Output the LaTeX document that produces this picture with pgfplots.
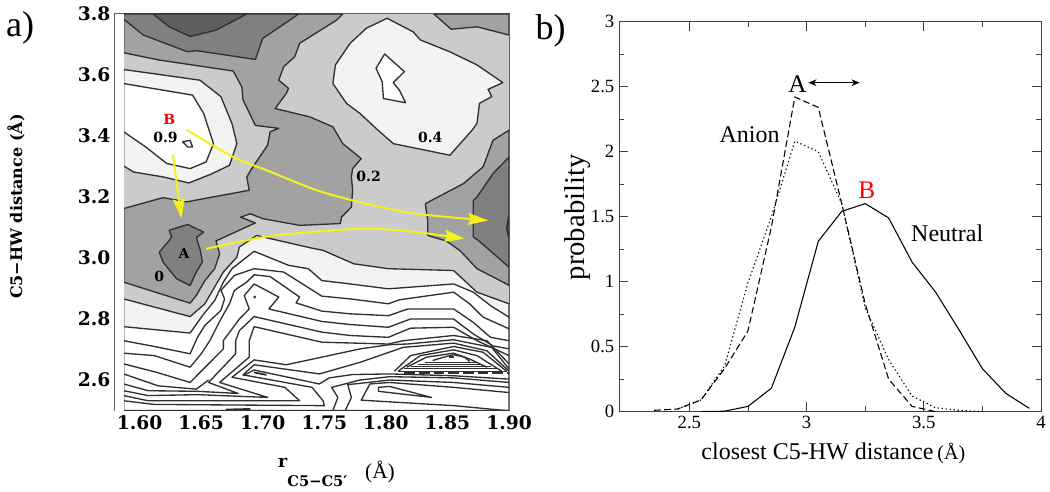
\documentclass[border=0pt]{standalone}
\usepackage{fontspec}
\usepackage{pgfplots}
\pgfplotsset{compat=1.18}
\usetikzlibrary{arrows.meta}
\setmainfont{Liberation Serif}
\newfontfamily\dvs{DejaVu Serif}
\definecolor{cfive}{HTML}{5E5E5E}
\definecolor{cfour}{HTML}{808080}
\definecolor{cthree}{HTML}{A2A2A2}
\definecolor{ctwo}{HTML}{CBCBCB}
\definecolor{cone}{HTML}{F3F3F3}
\definecolor{ln}{HTML}{303030}
\definecolor{yel}{HTML}{F6F01E}
\tikzset{lab/.style={font=\dvs\bfseries\fontsize{10.5}{12}\selectfont, inner sep=0pt}}
\pgfplotsset{
  ct/.style={ln, line width=1pt, no marks, line join=round},
  hl/.style={ln, line width=0.5pt, no marks},
  reg/.style={ln, line width=1pt, no marks, line join=round, fill=#1},
  yarrow/.style={yel, line width=1.5pt, no marks, smooth,
    -{Stealth[length=15pt,width=9pt,inset=2pt]}},
}
\begin{document}
\begin{tikzpicture}
\path[use as bounding box] (0,0) rectangle (787.5pt,369pt);

% a) free energy contour map
\begin{axis}[
  at={(86.25pt,61.1pt)}, anchor=south west,
  scale only axis, width=295.5pt, height=297.4pt,
  xmin=1.58, xmax=1.90, ymin=2.5, ymax=3.8,
  xtick={1.60,1.65,1.70,1.75,1.80,1.85,1.90},
  ytick={2.6,2.8,3.0,3.2,3.4,3.6,3.8},
  minor x tick num=4, minor y tick num=3,
  major tick length=4pt, minor tick length=2.2pt,
  every tick/.style={gray!70!black, line width=0.5pt},
  axis line style={gray!75!black, line width=1.3pt},
  x tick label style={/pgf/number format/.cd, fixed, fixed zerofill, precision=2, assume math mode=true},
  y tick label style={/pgf/number format/.cd, fixed, fixed zerofill, precision=1, assume math mode=true},
  tick label style={font=\dvs\bfseries\fontsize{14}{16}\selectfont},
]
\addplot[fill=ctwo, draw=none] coordinates {(1.587,2.5)(1.90,2.5)(1.90,3.8)(1.587,3.8)} -- cycle;
% lighter ground below the first contour
\addplot[reg=cone] coordinates {(1.587,2.866)(1.641,2.808)(1.653,2.850)(1.668,2.954)(1.679,3.003)(1.681,3.036)(1.695,3.074)(1.738,3.034)(1.749,3.025)(1.774,2.981)(1.802,2.965)(1.855,2.959)(1.874,2.888)(1.90,2.850)(1.90,2.5)(1.587,2.5)} -- cycle;
\addplot[reg=white] coordinates {(1.587,2.775)(1.641,2.754)(1.651,2.811)(1.661,2.861)(1.668,2.921)(1.675,2.965)(1.693,3.022)(1.721,2.976)(1.737,2.965)(1.748,2.926)(1.771,2.915)(1.802,2.899)(1.855,2.915)(1.871,2.888)(1.885,2.844)(1.90,2.806)(1.90,2.5)(1.587,2.5)} -- cycle;
% light basins
\addplot[reg=cone] coordinates {(1.587,3.618)(1.649,3.583)(1.666,3.529)(1.675,3.441)(1.679,3.375)(1.673,3.304)(1.658,3.275)(1.640,3.246)(1.619,3.266)(1.595,3.282)(1.587,3.302)} -- cycle;
\addplot[reg=white] coordinates {(1.587,3.572)(1.643,3.534)(1.652,3.474)(1.660,3.375)(1.654,3.315)(1.641,3.293)(1.622,3.310)(1.605,3.364)(1.587,3.414)} -- cycle;
\addplot[reg=cone] coordinates {(1.635,3.381)(1.641,3.386)(1.643,3.364)(1.639,3.364)} -- cycle;
\addplot[reg=cone] coordinates {(1.801,3.786)(1.822,3.742)(1.828,3.715)(1.852,3.676)(1.874,3.633)(1.895,3.575)(1.883,3.553)(1.886,3.529)(1.876,3.507)(1.874,3.441)(1.870,3.419)(1.852,3.337)(1.806,3.375)(1.792,3.425)(1.779,3.474)(1.768,3.507)(1.757,3.572)(1.759,3.633)(1.771,3.704)(1.784,3.753)} -- cycle;
\addplot[reg=white] coordinates {(1.799,3.669)(1.815,3.611)(1.806,3.575)(1.811,3.550)(1.816,3.509)(1.798,3.523)(1.797,3.578)(1.792,3.622)} -- cycle;
% darker regions
\addplot[reg=cthree] coordinates {(1.587,3.162)(1.619,3.198)(1.638,3.184)(1.689,3.222)(1.687,3.266)(1.692,3.299)(1.704,3.370)(1.706,3.414)(1.713,3.425)(1.694,3.435)(1.684,3.518)(1.683,3.561)(1.676,3.613)(1.616,3.649)(1.587,3.673)(1.587,3.80)(1.765,3.80)(1.760,3.78)(1.730,3.704)(1.726,3.660)(1.717,3.627)(1.713,3.583)(1.721,3.556)(1.719,3.539)(1.710,3.490)(1.738,3.463)(1.757,3.430)(1.765,3.375)(1.780,3.326)(1.773,3.293)(1.772,3.266)(1.773,3.222)(1.772,3.167)(1.764,3.134)(1.763,3.113)(1.730,3.107)(1.700,3.129)(1.690,3.145)(1.682,3.134)(1.694,3.115)(1.662,3.056)(1.665,3.014)(1.661,2.965)(1.653,2.926)(1.646,2.877)(1.641,2.852)(1.587,2.921)} -- cycle;
\addplot[reg=cthree] coordinates {(1.90,3.419)(1.887,3.386)(1.879,3.299)(1.863,3.244)(1.832,3.178)(1.834,3.123)(1.834,3.074)(1.849,3.056)(1.860,3.025)(1.874,2.965)(1.898,2.915)(1.90,2.910)} -- cycle;
\addplot[reg=cthree] coordinates {(1.839,3.80)(1.853,3.750)(1.874,3.758)(1.90,3.731)(1.90,3.80)} -- cycle;
\addplot[reg=cfour] coordinates {(1.587,3.80)(1.587,3.783)(1.603,3.731)(1.639,3.676)(1.646,3.680)(1.694,3.651)(1.700,3.720)(1.726,3.791)(1.729,3.80)} -- cycle;
\addplot[reg=cfive] coordinates {(1.611,3.80)(1.624,3.758)(1.641,3.726)(1.662,3.747)(1.687,3.80)} -- cycle;
\addplot[reg=cfour] coordinates {(1.639,3.110)(1.652,3.085)(1.646,3.067)(1.649,3.030)(1.651,2.987)(1.646,2.954)(1.641,2.910)(1.630,2.932)(1.619,2.987)(1.616,3.019)(1.624,3.058)(1.626,3.069)(1.624,3.091)} -- cycle;
\addplot[reg=cfour] coordinates {(1.90,3.331)(1.887,3.277)(1.874,3.200)(1.871,3.189)(1.871,3.123)(1.871,3.069)(1.875,3.058)(1.90,2.970)} -- cycle;
\addplot[reg=cfive] coordinates {(1.90,3.140)(1.898,3.100)(1.90,3.063)} -- cycle;
% contours of the steep lower part
\addplot[ct] coordinates {(1.587,2.729)(1.612,2.710)(1.641,2.686)(1.647,2.740)(1.653,2.779)(1.666,2.828)(1.669,2.866)(1.666,2.894)(1.677,2.943)(1.693,2.965)(1.717,2.954)(1.748,2.875)(1.771,2.866)(1.802,2.850)(1.811,2.863)(1.855,2.888)(1.868,2.850)(1.879,2.806)(1.90,2.768)};
\addplot[ct] coordinates {(1.587,2.688)(1.612,2.680)(1.641,2.642)(1.650,2.686)(1.657,2.729)(1.666,2.800)(1.673,2.850)(1.677,2.894)(1.687,2.921)(1.693,2.945)(1.706,2.939)(1.730,2.872)(1.727,2.853)(1.748,2.826)(1.771,2.817)(1.802,2.811)(1.818,2.833)(1.855,2.833)(1.871,2.789)(1.885,2.740)(1.90,2.729)};
\addplot[ct] coordinates {(1.587,2.653)(1.614,2.625)(1.641,2.592)(1.649,2.625)(1.668,2.702)(1.668,2.729)(1.681,2.800)(1.689,2.833)(1.685,2.877)(1.693,2.915)(1.713,2.872)(1.705,2.833)(1.748,2.792)(1.771,2.782)(1.802,2.773)(1.820,2.800)(1.855,2.800)(1.871,2.751)(1.887,2.712)(1.90,2.702)};
\addplot[ct] coordinates {(1.587,2.620)(1.615,2.581)(1.646,2.570)(1.656,2.600)};
\addplot[ct] coordinates {(1.587,2.587)(1.607,2.565)(1.647,2.563)(1.680,2.556)(1.656,2.592)(1.678,2.686)(1.678,2.729)(1.681,2.762)(1.693,2.808)(1.748,2.757)(1.771,2.746)(1.802,2.740)(1.820,2.770)(1.855,2.773)(1.874,2.729)(1.90,2.680)};
\addplot[ct] coordinates {(1.587,2.565)(1.607,2.549)(1.647,2.552)(1.704,2.543)(1.665,2.592)(1.689,2.675)(1.689,2.729)(1.693,2.775)(1.748,2.724)(1.802,2.718)(1.814,2.729)(1.855,2.746)(1.882,2.729)(1.90,2.653)};
\addplot[ct] coordinates {(1.587,2.549)(1.607,2.532)(1.730,2.532)(1.718,2.576)(1.675,2.609)(1.693,2.666)(1.719,2.650)(1.779,2.702)(1.803,2.716)(1.817,2.718)(1.855,2.732)(1.886,2.707)(1.90,2.636)};
\addplot[ct] coordinates {(1.587,2.532)(1.612,2.520)(1.750,2.516)(1.749,2.532)(1.740,2.576)(1.684,2.617)(1.693,2.650)(1.746,2.620)(1.779,2.658)(1.814,2.707)(1.855,2.721)(1.882,2.696)(1.90,2.629)};
\addplot[ct] coordinates {(1.684,2.614)(1.693,2.633)(1.746,2.587)(1.754,2.607)(1.773,2.618)(1.803,2.620)(1.855,2.614)(1.90,2.603)};
\addplot[ct] coordinates {(1.757,2.5)(1.761,2.543)(1.756,2.576)(1.779,2.600)(1.803,2.611)(1.855,2.607)(1.90,2.592)};
\addplot[ct] coordinates {(1.767,2.5)(1.772,2.543)(1.769,2.585)(1.779,2.589)(1.803,2.600)(1.855,2.592)(1.90,2.576)};
\addplot[ct] coordinates {(1.90,2.559)(1.855,2.576)(1.803,2.592)(1.787,2.587)(1.780,2.534)(1.855,2.516)(1.90,2.499)};
\addplot[ct] coordinates {(1.794,2.576)(1.803,2.579)(1.837,2.543)(1.794,2.563)} -- cycle;
% stack around the high peak
\addplot[ct] coordinates {(1.807,2.629)(1.820,2.680)(1.855,2.710)(1.879,2.691)(1.898,2.629)};
\addplot[ct] coordinates {(1.810,2.629)(1.828,2.680)(1.855,2.699)(1.874,2.680)(1.894,2.629)};
\addplot[ct] coordinates {(1.817,2.642)(1.833,2.675)(1.855,2.688)(1.868,2.669)(1.882,2.642)};
\addplot[ct] coordinates {(1.838,2.664)(1.847,2.675)(1.855,2.683)(1.864,2.675)(1.868,2.661)};
\addplot[hl] coordinates {(1.832,2.658)(1.873,2.658)};
\addplot[hl] coordinates {(1.826,2.651)(1.879,2.651)};
\addplot[hl] coordinates {(1.820,2.644)(1.885,2.644)};
\addplot[hl] coordinates {(1.815,2.637)(1.891,2.637)};
\addplot[hl] coordinates {(1.810,2.630)(1.898,2.630)};
\addplot[ln, line width=1.2pt, dash pattern=on 8pt off 3pt] coordinates {(1.815,2.623)(1.90,2.623)};
% small closed contours
\addplot[ln, line width=1.6pt] coordinates {(1.851,2.675)(1.855,2.675)};
\addplot[ln, line width=1.6pt] coordinates {(1.693,2.875)(1.694,2.869)};
\addplot[ln, line width=1.4pt] coordinates {(1.693,2.625)(1.703,2.617)};
\addplot[ln, line width=1.4pt] coordinates {(1.670,2.503)(1.690,2.505)};
% white margin left of the map
\addplot[fill=white, draw=none] coordinates {(1.58,2.5)(1.5875,2.5)(1.5875,3.8)(1.58,3.8)} -- cycle;
% yellow paths
\addplot[yarrow] coordinates {(1.654,3.030)(1.703,3.070)(1.757,3.091)(1.790,3.096)(1.825,3.085)(1.864,3.063)};
\addplot[yarrow] coordinates {(1.638,3.421)(1.676,3.331)(1.703,3.288)(1.744,3.222)(1.784,3.178)(1.825,3.145)(1.883,3.123)};
\addplot[yarrow] coordinates {(1.627,3.340)(1.634,3.129)};
\node[lab, red] at (axis cs:1.624,3.454) {B};
\node[lab] at (axis cs:1.621,3.394) {0.9};
\node[lab] at (axis cs:1.836,3.394) {0.4};
\node[lab] at (axis cs:1.786,3.268) {0.2};
\node[lab] at (axis cs:1.636,3.014) {A};
\node[lab] at (axis cs:1.616,2.941) {0};
\end{axis}

% b) distance distributions
\begin{axis}[
  at={(464.25pt,60.3pt)}, anchor=south west,
  scale only axis, width=316.5pt, height=292.5pt,
  xmin=2.2, xmax=4, ymin=0, ymax=3,
  xtick={2.5,3,3.5,4}, ytick={0,0.5,1,1.5,2,2.5,3},
  minor x tick num=1, minor y tick num=1,
  major tick length=7pt, minor tick length=4pt,
  every tick/.style={black!75, line width=0.5pt},
  axis line style={black!75, line width=0.7pt},
  tick label style={font=\fontsize{14}{16}\selectfont, /pgf/number format/assume math mode=true},
]
\addplot[black, line width=0.8pt, no marks] coordinates {(2.55,0)(2.65,0.003)(2.75,0.04)(2.85,0.18)(2.95,0.65)(3.05,1.31)(3.15,1.54)(3.25,1.6)(3.35,1.49)(3.45,1.15)(3.55,0.92)(3.65,0.63)(3.75,0.33)(3.85,0.14)(3.95,0.025)};
\addplot[black, line width=0.8pt, no marks, dash pattern=on 5pt off 2.5pt] coordinates {(2.35,0.01)(2.45,0.02)(2.55,0.09)(2.65,0.33)(2.75,0.62)(2.85,1.42)(2.95,2.42)(3.05,2.34)(3.15,1.6)(3.25,0.83)(3.35,0.25)(3.45,0.04)(3.55,0)};
\addplot[black, line width=0.8pt, no marks, dash pattern=on 1pt off 2pt] coordinates {(2.45,0.02)(2.55,0.09)(2.65,0.35)(2.75,0.99)(2.85,1.5)(2.95,2.08)(3.05,2.0)(3.15,1.6)(3.25,0.8)(3.35,0.4)(3.45,0.12)(3.55,0.03)(3.65,0.01)(3.75,0)};
\addplot[black, line width=0.7pt, no marks, {Stealth[length=6pt,width=5pt]}-{Stealth[length=6pt,width=5pt]}] coordinates {(3.008,2.53)(3.226,2.53)};
\node[font=\fontsize{19}{21}\selectfont, inner sep=0pt] at (axis cs:2.961,2.52) {A};
\node[font=\fontsize{19}{21}\selectfont, inner sep=0pt, red] at (axis cs:3.257,1.70) {B};
\node[font=\fontsize{18}{20}\selectfont, inner sep=0pt] at (axis cs:2.757,2.13) {Anion};
\node[font=\fontsize{18}{20}\selectfont, inner sep=0pt] at (axis cs:3.60,1.37) {Neutral};
\end{axis}

% panel letters and axis titles
\node[font=\fontsize{27}{29}\selectfont, inner sep=0pt] at (15pt,348pt) {a)};
\node[font=\fontsize{27}{29}\selectfont, inner sep=0pt] at (413pt,346pt) {b)};
\node[font=\dvs\bfseries\fontsize{12}{14}\selectfont, inner sep=0pt, rotate=90] at (12pt,214pt) {C5−HW distance (Å)};
\node[font=\dvs\bfseries\fontsize{13}{15}\selectfont, inner sep=0pt] at (212pt,22pt) {r};
\node[font=\dvs\bfseries\fontsize{11}{13}\selectfont, inner sep=0pt] at (238pt,8.5pt) {C5−C5′};
\node[font=\fontsize{16}{18}\selectfont, inner sep=0pt] at (285pt,15pt) {(Å)};
\node[font=\fontsize{18}{20}\selectfont, inner sep=0pt] at (625pt,29pt) {closest C5-HW distance\,{\fontsize{15}{17}\selectfont(Å)}};
\node[font=\fontsize{21.5}{24}\selectfont, inner sep=0pt, rotate=90] at (433pt,206pt) {probability};
\end{tikzpicture}
\end{document}
